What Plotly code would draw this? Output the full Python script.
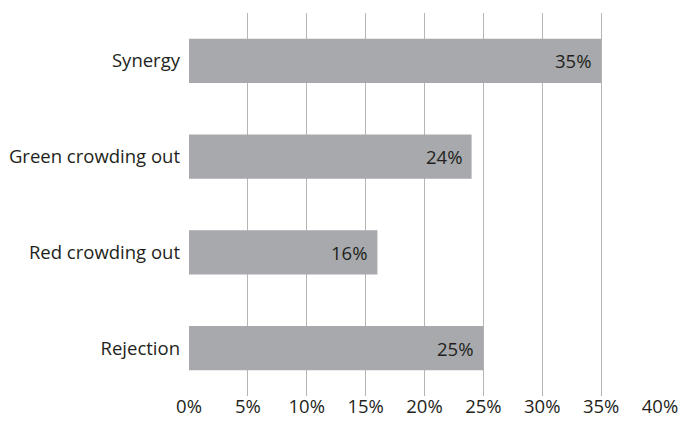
import plotly.graph_objects as go

categories = ["Synergy", "Green crowding out", "Red crowding out", "Rejection"]
values = [35, 24, 16, 25]
labels = ["35%", "24%", "16%", "25%"]
tick_vals = [0, 5, 10, 15, 20, 25, 30, 35, 40]
tick_text = ["0%", "5%", "10%", "15%", "20%", "25%", "30%", "35%", "40%"]

font_family = "Open Sans"
text_color = "#231f20"
fsize = 18.5

fig = go.Figure(go.Bar(
    y=categories,
    x=values,
    orientation="h",
    marker=dict(color="#a7a9ac", line=dict(width=0)),
    hoverinfo="x+y",
))

for cat, val, lab in zip(categories, values, labels):
    fig.add_annotation(
        x=val, y=cat, text=lab, showarrow=False,
        xanchor="right", yanchor="middle", xshift=-8,
        font=dict(family=font_family, size=fsize, color=text_color),
    )

fig.update_layout(
    width=680, height=422,
    margin=dict(l=189, r=20, t=13, b=26),
    paper_bgcolor="white",
    plot_bgcolor="white",
    bargap=0.54,
    showlegend=False,
    font=dict(family=font_family, size=fsize, color=text_color),
)
fig.update_xaxes(
    range=[0, 40],
    tickvals=tick_vals,
    ticktext=tick_text,
    showgrid=True,
    gridcolor="#b5b5b5",
    gridwidth=1,
    zeroline=False,
    showline=False,
    ticks="",
    ticklabelstandoff=-3,
    automargin=False,
    tickfont=dict(family=font_family, size=fsize, color=text_color),
)
fig.update_yaxes(
    categoryorder="array",
    categoryarray=categories[::-1],
    showgrid=False,
    zeroline=False,
    showline=False,
    ticks="",
    ticklabelstandoff=8,
    automargin=False,
    tickfont=dict(family=font_family, size=fsize, color=text_color),
)

fig.write_html("out.html")
